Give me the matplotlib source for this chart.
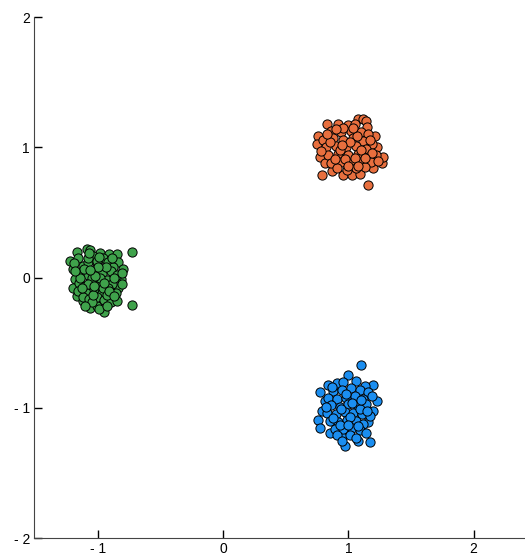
import matplotlib
matplotlib.use('Agg')
import matplotlib.pyplot as plt

# cluster points (data units)
green_x = [-1.17, -1.09, -1.06, -0.98, -0.91, -0.85, -1.22, -1.16, -1.04, -0.96, -0.84, -0.80,
           -1.20, -1.18, -1.20, -1.17, -1.12, -1.06, -1.01, -0.95, -0.88, -0.84, -0.82, -0.73, -0.73,
           -1.12, -1.08, -1.01, -0.92, -0.88, -1.14, -1.08, -1.02, -0.97, -0.90, -0.85, -1.15, -1.10,
           -1.04, -0.99, -0.93, -0.89, -1.16, -1.09, -1.03, -0.97, -0.92, -0.86, -1.12, -1.07, -1.01,
           -0.95, -0.90, -1.05, -0.99, -0.93, -1.11, -1.05, -0.96, -1.01, -0.89, -1.19, -0.81, -0.85,
           -1.08, -0.94, -0.98, -1.08, -1.04, -0.93, -1.14, -0.87, -1.02, -1.10, -0.81, -1.00, -1.06,
           -0.95, -1.03, -0.99, -1.13, -0.91, -1.07, -0.87, -1.18]
green_y = [0.20, 0.22, 0.21, 0.19, 0.18, 0.18, 0.13, 0.15, 0.17, 0.15, 0.12, 0.07,
           0.07, -0.01, -0.08, -0.14, -0.18, -0.23, -0.22, -0.26, -0.16, -0.08, -0.01, 0.20, -0.21,
           0.09, 0.12, 0.11, 0.12, 0.08, 0.04, 0.02, 0.05, 0.03, 0.05, 0.02, -0.04, -0.06,
           -0.02, -0.05, -0.02, -0.05, -0.10, -0.12, -0.09, -0.12, -0.08, -0.12, -0.15, -0.16, -0.15,
           -0.17, -0.19, -0.19, -0.24, -0.22, 0.07, 0.00, -0.08, 0.13, 0.15, 0.11, -0.05, -0.18,
           0.15, 0.08, 0.00, -0.05, -0.13, -0.13, 0.00, 0.00, 0.01, -0.22, 0.04, 0.08, 0.06,
           -0.04, -0.06, 0.16, -0.08, -0.10, 0.19, -0.14, 0.05]

orange_x = [1.08, 1.12, 1.14, 0.83, 0.92, 1.00, 1.05, 1.15, 0.76, 0.75, 0.77, 0.81, 0.79, 0.87,
            0.96, 1.03, 1.09, 1.16, 1.20, 1.27, 1.28, 1.23, 1.21, 1.19,
            0.86, 0.94, 1.02, 1.10, 1.16, 0.80, 0.88, 0.96, 1.04, 1.12, 0.82, 0.90, 0.98, 1.06,
            1.14, 0.84, 0.92, 1.00, 1.08, 1.16, 1.22, 0.86, 0.94, 1.02, 1.10, 1.18, 0.91, 0.99,
            1.06, 1.13, 0.96, 1.07, 0.85, 0.93, 1.01, 1.10, 1.19, 0.97, 1.05, 0.89, 1.13, 0.78,
            1.24, 1.17, 1.00, 0.83, 1.04, 0.90, 1.08, 0.95]
orange_y = [1.22, 1.22, 1.20, 1.18, 1.18, 1.17, 1.18, 1.16, 1.09, 1.03, 0.93, 0.88, 0.79, 0.82,
            0.79, 0.79, 0.80, 0.71, 0.84, 0.88, 0.93, 1.00, 1.09, 1.03,
            1.13, 1.12, 1.13, 1.12, 1.10, 1.06, 1.07, 1.06, 1.07, 1.05, 1.00, 1.01, 1.00, 1.01,
            0.99, 0.94, 0.95, 0.94, 0.95, 0.93, 0.94, 0.88, 0.89, 0.88, 0.89, 0.89, 0.84, 0.83,
            0.84, 0.85, 1.15, 1.09, 1.04, 0.98, 1.04, 0.98, 0.96, 0.91, 0.92, 0.91, 0.92, 0.97,
            0.90, 1.06, 0.86, 1.10, 1.15, 1.14, 0.86, 1.02]

blue_x = [1.10, 1.00, 0.84, 0.91, 0.77, 1.20, 1.23, 0.76, 0.77, 0.85, 0.95, 0.97, 1.08, 1.17,
          1.16, 1.20, 0.81, 0.79,
          0.96, 1.06, 1.13, 0.88, 0.95, 1.02, 1.09, 1.16, 0.84, 0.91, 0.98, 1.05, 1.12, 1.19,
          0.86, 0.93, 1.00, 1.07, 1.14, 0.83, 0.90, 0.97, 1.04, 1.11, 1.17, 0.85, 0.92, 0.99,
          1.06, 1.12, 0.89, 0.96, 1.03, 1.09, 1.14, 0.91, 1.01, 1.06, 0.98, 1.03, 0.94, 1.09,
          0.88, 1.01, 1.08, 0.93, 1.15, 0.82, 1.00, 1.10, 0.87, 0.95]
blue_y = [-0.67, -0.75, -0.82, -0.81, -0.88, -0.82, -0.95, -1.09, -1.15, -1.19, -1.22, -1.29,
          -1.25, -1.26, -1.11, -1.02, -0.95, -1.02,
          -0.80, -0.79, -0.83, -0.87, -0.86, -0.85, -0.86, -0.88, -0.92, -0.93, -0.92, -0.91,
          -0.93, -0.91, -0.98, -0.99, -0.97, -0.98, -0.97, -1.04, -1.05, -1.03, -1.04, -1.05,
          -1.06, -1.10, -1.11, -1.09, -1.10, -1.12, -1.16, -1.16, -1.15, -1.17, -1.19, -1.21,
          -1.21, -1.23, -0.89, -0.96, -1.01, -1.01, -1.08, -1.07, -1.14, -1.13, -1.02, -0.99,
          -1.13, -0.94, -0.84, -1.25]

x_ticks = [-1, 0, 1, 2]
x_labels = ['- 1', '0', '1', '2']
y_ticks = [-2, -1, 0, 1, 2]
y_labels = ['- 2', '- 1', '0', '1', '2']

plt.rcParams['font.family'] = ['Liberation Sans', 'DejaVu Sans']

fig = plt.figure(figsize=(5.25, 5.56), dpi=100)
ax = fig.add_axes([0.065, 0.032, 0.935, 0.937])

# same look for all three groups
dot = dict(s=44, edgecolors='black', linewidths=0.7, zorder=3)
ax.scatter(green_x, green_y, c='#3fa24b', **dot)
ax.scatter(orange_x, orange_y, c='#e86f3e', **dot)
ax.scatter(blue_x, blue_y, c='#1b8ef0', **dot)

ax.set_xlim(-1.51, 2.41)
ax.set_ylim(-2.0, 2.0)
ax.set_xticks(x_ticks)
ax.set_xticklabels(x_labels)
ax.set_yticks(y_ticks)
ax.set_yticklabels(y_labels)
ax.tick_params(direction='in', length=6, width=1, labelsize=10, pad=3)

ax.spines['top'].set_visible(False)
ax.spines['right'].set_visible(False)
ax.spines['left'].set_color('#444444')
ax.spines['bottom'].set_color('#444444')
ax.set_facecolor('white')

fig.savefig('out.png', dpi=100)
